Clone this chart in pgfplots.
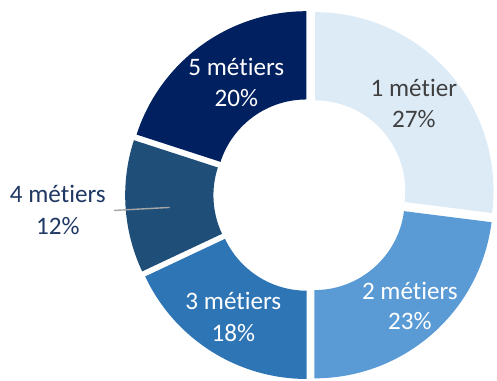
\documentclass[border=0pt]{standalone}
\usepackage{pgfplots}
\pgfplotsset{compat=1.18}
\usepackage{pgfplotstable}
\usepackage{fontspec}
\setmainfont{Carlito}[Ligatures={NoCommon,NoRequired,NoContextual}]
\definecolor{c1}{HTML}{DDEBF7}
\definecolor{c2}{HTML}{5B9BD5}
\definecolor{c3}{HTML}{2E75B6}
\definecolor{c4}{HTML}{1F4E79}
\definecolor{c5}{HTML}{002060}
\definecolor{lblgray}{HTML}{404040}
\definecolor{navy}{HTML}{1F3864}
\definecolor{leader}{HTML}{A6A6A6}
\pgfplotstableread{
name value col
1 27 c1
2 23 c2
3 18 c3
4 12 c4
5 20 c5
}\donut
\begin{document}
\begin{tikzpicture}[font=\fontsize{25.3}{30}\selectfont]
\begin{axis}[x=1bp,y=1bp,xmin=-311,xmax=186,ymin=-186.5,ymax=195.5,hide axis,clip=false]
\path (axis cs:-311,-186.5) rectangle (axis cs:186,195.5);
\def\Ro{179}\def\Ri{90.5}\def\dexp{6.5}
\def\cum{90}
\pgfplotsforeachungrouped \i in {0,...,4}{%
  \pgfplotstablegetelem{\i}{value}\of\donut \let\sv\pgfplotsretval
  \pgfplotstablegetelem{\i}{col}\of\donut \let\scol\pgfplotsretval
  \pgfmathsetmacro\aS{\cum}%
  \pgfmathsetmacro\aE{\cum-3.6*\sv}%
  \pgfmathsetmacro\aM{(\aS+\aE)/2}%
  \pgfmathsetmacro\ox{\dexp*cos(\aM)}%
  \pgfmathsetmacro\oy{\dexp*sin(\aM)}%
  \pgfmathsetmacro\xA{\ox+\Ro*cos(\aS)}%
  \pgfmathsetmacro\yA{\oy+\Ro*sin(\aS)}%
  \pgfmathsetmacro\xB{\ox+\Ri*cos(\aE)}%
  \pgfmathsetmacro\yB{\oy+\Ri*sin(\aE)}%
  \edef\temp{\noexpand\fill[\scol] (axis cs:\xA,\yA) arc[start angle=\aS, end angle=\aE, radius=\Ro bp] -- (axis cs:\xB,\yB) arc[start angle=\aE, end angle=\aS, radius=\Ri bp] -- cycle;}%
  \temp
  \global\let\cum\aE
}
\draw[leader, line width=1.4bp] (axis cs:-196.5,-15.5) -- (axis cs:-141,-12.5);
\node[anchor=base, text=lblgray] at (axis cs:104,98.5) {1 métier};
\node[anchor=base, text=lblgray] at (axis cs:104,67.5) {27\%};
\node[anchor=base, text=white] at (axis cs:100,-104.5) {2 métiers};
\node[anchor=base, text=white] at (axis cs:100,-134.5) {23\%};
\node[anchor=base, text=white] at (axis cs:-77,-114.5) {3 métiers};
\node[anchor=base, text=white] at (axis cs:-77,-146.5) {18\%};
\node[anchor=base, text=navy] at (axis cs:-253,-7.5) {4 métiers};
\node[anchor=base, text=navy] at (axis cs:-253,-39.5) {12\%};
\node[anchor=base, text=white] at (axis cs:-74,119.5) {5 métiers};
\node[anchor=base, text=white] at (axis cs:-74,88.5) {20\%};
\end{axis}
\end{tikzpicture}
\end{document}
